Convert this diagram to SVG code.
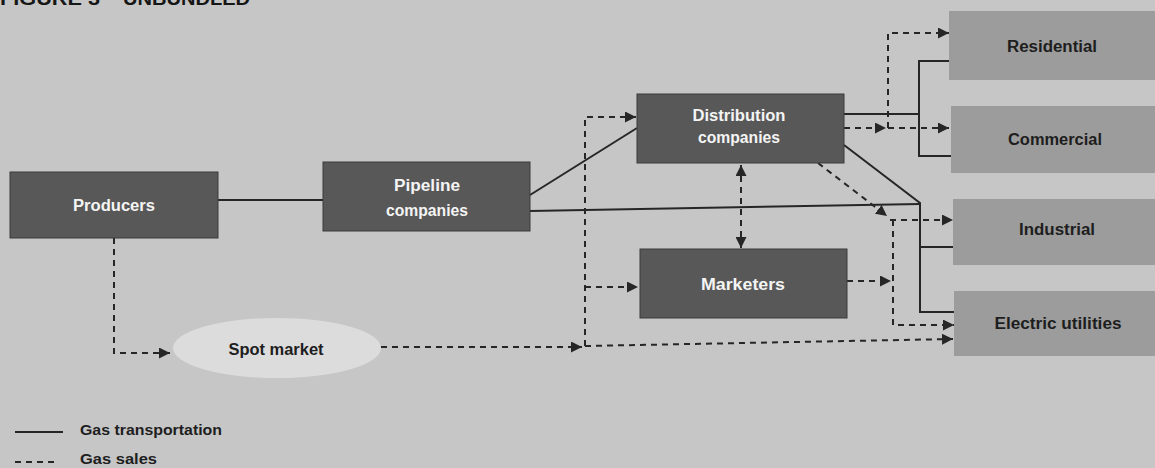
<svg xmlns="http://www.w3.org/2000/svg" width="1155" height="468" viewBox="0 0 1155 468">
  <style>
    .bg { fill: #c6c6c6; }
    .supply rect { fill: #585858; stroke: #3a3a3a; stroke-width: 1; }
    .customer rect { fill: #9c9c9c; }
    .lbl { font-family: "Liberation Sans", Arial, sans-serif; font-weight: bold; font-size: 16px; text-anchor: middle; }
    .light { fill: #f4f4f4; }
    .darkt { fill: #1e1e1e; }
    .solid { fill: none; stroke: #262626; stroke-width: 2; }
    .dash { fill: none; stroke: #262626; stroke-width: 2; stroke-dasharray: 6 5; }
    .legend { font-family: "Liberation Sans", Arial, sans-serif; font-weight: bold; font-size: 15px; fill: #1e1e1e; }
    .title { font-family: "Liberation Sans", Arial, sans-serif; font-weight: bold; font-size: 18px; fill: #161616; }
  </style>
  <defs>
    <marker id="arr" viewBox="0 0 10 10" refX="10" refY="5" markerWidth="5.5" markerHeight="5.5" orient="auto-start-reverse" markerUnits="strokeWidth">
      <path d="M0,0 L10,5 L0,10 z" fill="#262626"/>
    </marker>
  </defs>

  <rect class="bg" x="0" y="0" width="1155" height="468"/>

  <!-- heading, mostly above the top edge -->
  <text class="title" x="0" y="5" textLength="100" lengthAdjust="spacingAndGlyphs">FIGURE 3</text>
  <text class="title" x="123" y="5" textLength="127" lengthAdjust="spacingAndGlyphs">UNBUNDLED</text>

  <!-- connectors -->
  <g id="connectors">
    <!-- gas transportation -->
    <path class="solid" d="M218,200 H323"/>
    <path class="solid" d="M530,195 L637,128"/>
    <path class="solid" d="M530,211 L920,204"/>
    <path class="solid" d="M844,145 L920,203 V312 H954"/>
    <path class="solid" d="M920,247 H953"/>
    <path class="solid" d="M844,114 H919"/>
    <path class="solid" d="M949,61 H919 V156 H951"/>

    <!-- gas sales -->
    <path class="dash" d="M114,238 V353 H170" marker-end="url(#arr)"/>
    <path class="dash" d="M381,347 H582" marker-end="url(#arr)"/>
    <path class="dash" d="M585,346 L953,339" marker-end="url(#arr)"/>
    <path class="dash" d="M585,346 V117 H636" marker-end="url(#arr)"/>
    <path class="dash" d="M585,287 H638" marker-end="url(#arr)"/>
    <path class="dash" d="M844,128 H886" marker-end="url(#arr)"/>
    <path class="dash" d="M888,128 H949" marker-end="url(#arr)"/>
    <path class="dash" d="M888,128 V33 H949" marker-end="url(#arr)"/>
    <path class="dash" d="M818,163 L887,216" marker-end="url(#arr)"/>
    <path class="dash" d="M890,220 H953" marker-end="url(#arr)"/>
    <path class="dash" d="M893,220 V325 H954" marker-end="url(#arr)"/>
    <path class="dash" d="M847,281 H891" marker-end="url(#arr)"/>
    <path class="dash" d="M741,165 V248" marker-start="url(#arr)" marker-end="url(#arr)"/>
  </g>

  <!-- supply side -->
  <g id="producers" class="supply">
    <rect x="10" y="172" width="208" height="66"/>
    <text class="lbl light" x="114" y="211" textLength="82" lengthAdjust="spacingAndGlyphs">Producers</text>
  </g>
  <g id="pipeline" class="supply">
    <rect x="323" y="162" width="207" height="69"/>
    <text class="lbl light" x="427" y="191" textLength="66" lengthAdjust="spacingAndGlyphs">Pipeline</text>
    <text class="lbl light" x="427" y="216" textLength="82" lengthAdjust="spacingAndGlyphs">companies</text>
  </g>
  <g id="distribution" class="supply">
    <rect x="637" y="94" width="207" height="69"/>
    <text class="lbl light" x="739" y="121" textLength="93" lengthAdjust="spacingAndGlyphs">Distribution</text>
    <text class="lbl light" x="739" y="143" textLength="82" lengthAdjust="spacingAndGlyphs">companies</text>
  </g>
  <g id="marketers" class="supply">
    <rect x="640" y="249" width="207" height="69"/>
    <text class="lbl light" x="743" y="290" textLength="84" lengthAdjust="spacingAndGlyphs">Marketers</text>
  </g>
  <g id="spot-market">
    <ellipse cx="277" cy="348" rx="104" ry="30" fill="#dcdcdc"/>
    <text class="lbl darkt" x="276" y="355" font-size="17" textLength="95" lengthAdjust="spacingAndGlyphs">Spot market</text>
  </g>

  <!-- customers -->
  <g id="residential" class="customer">
    <rect x="949" y="11" width="206" height="69"/>
    <text class="lbl darkt" x="1052" y="52" textLength="90" lengthAdjust="spacingAndGlyphs">Residential</text>
  </g>
  <g id="commercial" class="customer">
    <rect x="951" y="106" width="204" height="67"/>
    <text class="lbl darkt" x="1055" y="145" textLength="94" lengthAdjust="spacingAndGlyphs">Commercial</text>
  </g>
  <g id="industrial" class="customer">
    <rect x="953" y="199" width="202" height="66"/>
    <text class="lbl darkt" x="1057" y="235" textLength="76" lengthAdjust="spacingAndGlyphs">Industrial</text>
  </g>
  <g id="electric-utilities" class="customer">
    <rect x="954" y="291" width="201" height="65"/>
    <text class="lbl darkt" x="1058" y="329" textLength="127" lengthAdjust="spacingAndGlyphs">Electric utilities</text>
  </g>

  <!-- legend -->
  <g id="legend">
    <path class="solid" d="M15,432 H63"/>
    <text class="legend" x="80" y="435" textLength="142" lengthAdjust="spacingAndGlyphs">Gas transportation</text>
    <path class="dash" d="M15,462 H58"/>
    <text class="legend" x="80" y="464" textLength="77" lengthAdjust="spacingAndGlyphs">Gas sales</text>
  </g>
</svg>
